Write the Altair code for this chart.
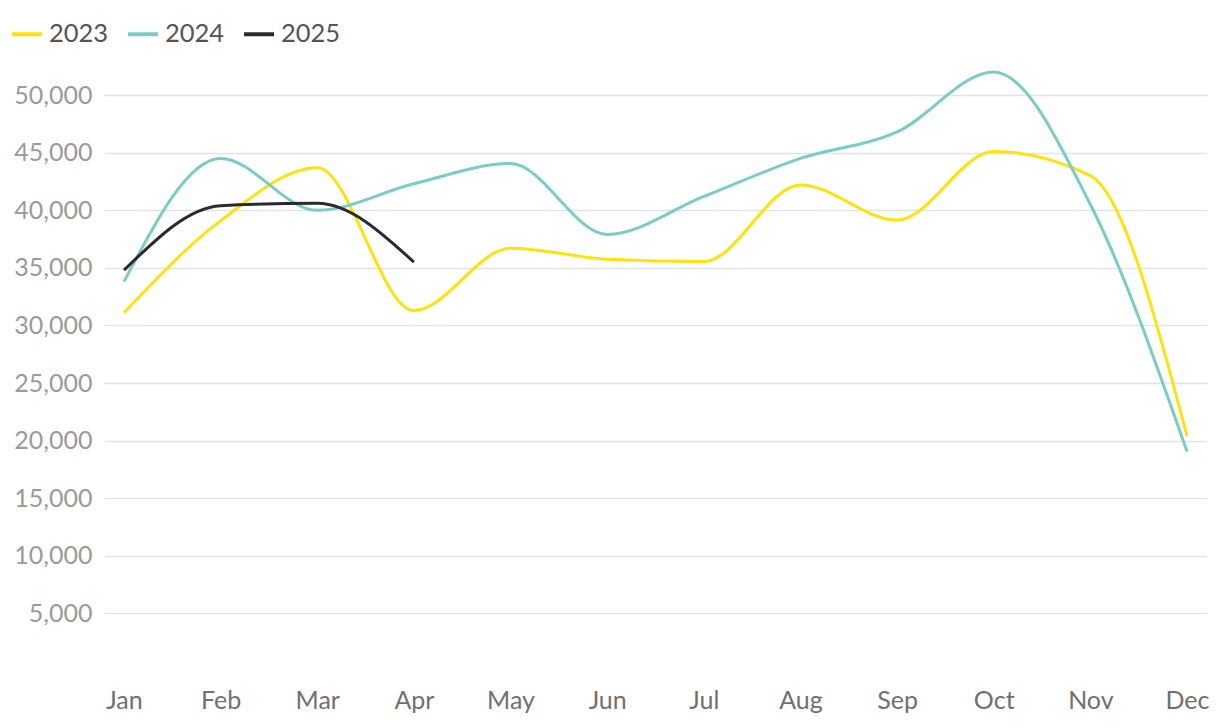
import altair as alt
import pandas as pd

months = ["Jan", "Feb", "Mar", "Apr", "May", "Jun", "Jul", "Aug", "Sep", "Oct", "Nov", "Dec"]
years = ["2023", "2024", "2025"]
colors = ["#FFE20B", "#7ACCC7", "#2B2B2B"]

v2023 = [31100, 39100, 43700, 31300, 36700, 35750, 35550, 42200, 39150, 45100, 43000, 20400]
v2024 = [33800, 44500, 40000, 42300, 44050, 37900, 41200, 44500, 46800, 52000, 40500, 19050]
v2025 = [34800, 40400, 40600, 35500]

rows = []
for y, vals in zip(years, [v2023, v2024, v2025]):
    for m, v in zip(months, vals):
        rows.append({"month": m, "year": y, "value": v})
df = pd.DataFrame(rows)

ticks = [5000, 10000, 15000, 20000, 25000, 30000, 35000, 40000, 45000, 50000]

chart = alt.Chart(df).mark_line(interpolate="monotone", strokeWidth=3).encode(
    x=alt.X("month:N", sort=months, title=None,
            scale=alt.Scale(type="point", padding=0.207),
            axis=alt.Axis(labelAngle=0, ticks=False, domain=False, grid=False,
                          labelPadding=17, labelColor="#707070", labelFontSize=25)),
    y=alt.Y("value:Q", title=None,
            scale=alt.Scale(domain=[0, 54000], nice=False),
            axis=alt.Axis(values=ticks, format=",.0f", ticks=False, domain=False,
                          labelPadding=12, labelColor="#9A9A9A", labelFontSize=25,
                          gridColor="#E3E3E3", gridWidth=1.5)),
    color=alt.Color("year:N", scale=alt.Scale(domain=years, range=colors),
                    legend=alt.Legend(title=None, orient="none", direction="horizontal",
                                      legendX=-94, legendY=-32,
                                      symbolType="stroke", symbolSize=900,
                                      symbolStrokeWidth=4, labelFontSize=25.5,
                                      labelColor="#555555", columnPadding=11,
                                      labelOffset=5)),
).properties(
    width=1103, height=622,
    padding={"left": 96, "top": 41, "right": 5, "bottom": 48},
    autosize=alt.AutoSizeParams(type="none"),
).configure(
    font="Lato",
).configure_view(stroke=None)

chart.save("out.html", embed_options={"renderer": "svg", "actions": False})
